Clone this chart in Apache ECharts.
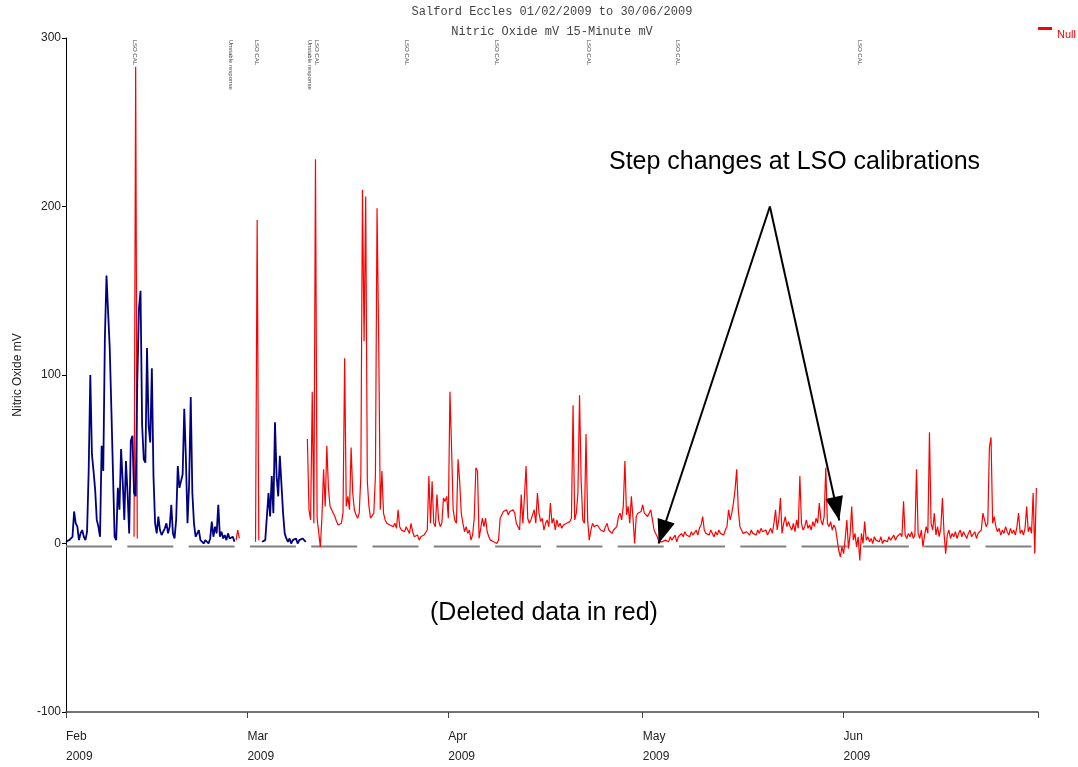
<!DOCTYPE html>
<html><head><meta charset="utf-8">
<script src="https://cdn.jsdelivr.net/npm/echarts@6/dist/echarts.min.js"></script>
<style>html,body{margin:0;padding:0;background:#fff}#c{width:1078px;height:767px}</style>
</head><body><div id="c"></div>
<script>
// ---- data (6-hour samples) ----
const stepHours = 6;
const blueStart = '2009-02-01 00:00';
const blueValues = [
  1, 0, 2, 1, 4, 19, 12, 10, 2, 6,
  8, 4, 2, 7, 43, 100, 53, 43, 32, 14,
  10, 4, 58, 43, 122, 159, 137, 116, 80, 79,
  4, 2, 33, 20, 56, 37, 14, 49, 30, 6,
  61, 64, 30, 28, 96, 139, 150, 70, 50, 48,
  116, 70, 60, 104, 40, 12, 6, 16, 8, 5,
  5, 9, 12, 6, 10, 23, 6, 3, 14, 46,
  33, 32, 41, 80, 51, 12, 35, 87, 30, 12,
  4, 6, 8, 2, 1, 0, 2, 1, 0, 3,
  13, 4, 10, 6, 23, 4, 7, 3, 5, 2,
  6, 3, 2, 4, 1, null, null, null, null, null,
  null, null, null, null, null, null, null, null, null, null,
  null, 1, 0, 2, 1, 30, 16, 40, 18, 72,
  40, 28, 52, 51, 18, 6, 3, 1, 3, 0,
  2, 1, 3, 0, 2, 1, 3, 2, 1
];
const redFeb11 = [4, 283, 3];
const redFeb27 = [2, 8, 3];
const redMar02 = [1, 192, 2];
const redMain = [
  62,
  20, 14, 90, 12, 228, 15, 14, -2, 16, 44,
  22, 58, 33, 22, 20, 18, 16, 13, 11, 10,
  12, 18, 110, 22, 28, 20, 57, 30, 20, 17,
  15, 18, 40, 210, 120, 206, 37, 22, 15, 14,
  18, 40, 199, 122, 20, 43, 18, 14, 12, 13,
  11, 12, 10, 12, 9, 20, 10, 8, 9, 7,
  10, 8, 6, 12, 7, 4, 3, 5, 2, 4,
  3, 5, 6, 8, 40, 12, 37, 12, 10, 29,
  14, 10, 12, 27, 25, 28, 15, 90, 57, 20,
  14, 12, 50, 37, 18, 12, 7, 10, 6, 8,
  2, 5, 15, 45, 43, 3, 9, 15, 10, 15,
  7, 4, 2, 3, 1, 2, 0, 2, 15, 17,
  19, 18, 20, 17, 19, 18, 20, 18, 12, 10,
  8, 29, 12, 28, 46, 15, 12, 14, 17, 20,
  12, 30, 18, 13, 15, 8, 12, 14, 10, 24,
  12, 15, 8, 14, 10, 12, 9, 11, 10, 12,
  11, 13, 15, 82, 14, 18, 30, 88, 37, 14,
  12, 65, 14, 2, 8, 12, 10, 9, 11, 12,
  8, 9, 7, 10, 12, 8, 9, 6, 8, 7,
  10, 16, 18, 14, 22, 49, 17, 22, 12, 28,
  15, 0, 16, 18, 17, 19, 23, 18, 17, 16,
  18, 20, 14, 8, 6, 4, 1, 2, 1, 0,
  2, 3, 1, 4, 2, 3, 5, 1, 4, 5,
  6, 4, 7, 5, 6, 4, 7, 5, 6, 8,
  5, 9, 11, 16, 8, 6, 7, 5, 8, 6,
  4, 7, 5, 8, 6, 7, 5, 8, 10, 20,
  14, 18, 24, 32, 44, 20, 10, 8, 6, 5,
  7, 6, 5, 8, 6, 7, 5, 8, 6, 9,
  7, 6, 8, 5, 7, 9, 6, 12, 20, 8,
  14, 27, 6, 12, 16, 10, 13, 10, 8, 12,
  7, 14, 9, 40, 12, 8, 10, 14, 9, 11,
  8, 13, 10, 15, 12, 24, 14, 11, 16, 45,
  12, 10, 13, 8, 11, 9, 10, -4, -8, -2,
  -6, 3, 14, -3, 5, 22, 2, 6, -2, 4,
  -10, 6, 0, 13, 2, 4, 1, 3, 0, 4,
  2, 3, 1, 4, 0, 2, 3, 1, 4, 2,
  3, 5, 2, 4, 3, 6, 4, 25, 5, 3,
  6, 4, 7, 3, 5, 44, 6, 3, 8, -2,
  5, 10, 6, 66, 12, 8, 18, 5, 10, 4,
  9, 27, 6, -6, 5, 8, 3, 6, 4, 7,
  3, 6, 8, 4, 7, 5, 3, 6, 8, 4,
  5, 7, 3, 6, 5, 8, 18, 14, 10, 12,
  57, 63, 12, 16, 10, 7, 9, 5, 8, 6,
  10, 7, 5, 9, 6, 8, 5, 10, 18, 6,
  8, 5, 9, 22, 7, 10, 6, 30, -6, 33
];
const redPieces = [redFeb11, redFeb27, redMar02, redMain];
const redStarts = ['2009-02-11 12:00', '2009-02-27 06:00', '2009-03-02 06:00', '2009-03-10 06:00'];

const calTimes = ['2009-02-11 16:00', '2009-02-26 11:00', '2009-03-02 11:00', '2009-03-11 03:00',
  '2009-03-25 14:00', '2009-04-08 12:00', '2009-04-22 14:00', '2009-05-06 10:00', '2009-06-03 12:00'];
const calLabels = ['LSO CAL', 'Unstable response', 'LSO CAL', 'LSO CAL\nUnstable response',
  'LSO CAL', 'LSO CAL', 'LSO CAL', 'LSO CAL', 'LSO CAL'];

const monthTicks = ['2009-02-01', '2009-03-01', '2009-04-01', '2009-05-01', '2009-06-01', '2009-07-01'];
const monthLabels = ['Feb\n2009', 'Mar\n2009', 'Apr\n2009', 'May\n2009', 'Jun\n2009', ''];

const arrowFrom = ['2009-05-20 15:00', 200];
const arrowTo = [['2009-05-03 11:00', 0], ['2009-05-31 08:00', 13.6]];
const nullLineLevel = -1.8;

// ---- helpers ----
function t(s) {
  const parts = s.split(' ');
  const [Y, M, D] = parts[0].split('-').map(Number);
  const [hh, mm] = (parts[1] || '00:00').split(':').map(Number);
  return new Date(Y, M - 1, D, hh, mm).getTime();
}
const H = 3600000;
function toSeries(start, vals) {
  const t0 = t(start);
  return vals.map((v, i) => [t0 + i * stepHours * H, v == null ? '-' : v]);
}
const blueData = toSeries(blueStart, blueValues);
let redData = [];
redPieces.forEach((p, k) => {
  if (k > 0) redData.push([t(redStarts[k]) - H, '-']);
  redData = redData.concat(toSeries(redStarts[k], p));
});
const tickTimes = monthTicks.map(s => t(s));
function labelFor(v) {
  let best = -1, bd = Infinity;
  tickTimes.forEach((tt, i) => { const d = Math.abs(tt - v); if (d < bd) { bd = d; best = i; } });
  return bd < H ? monthLabels[best] : '';
}

const chart = echarts.init(document.getElementById('c'), null, { renderer: 'canvas' });
chart.setOption({
  animation: false,
  backgroundColor: '#fff',
  grid: { left: 66, right: 40, top: 38, bottom: 52, containLabel: false },
  legend: {
    data: [{ name: 'Null', icon: 'rect' }],
    right: 2, top: 27, itemWidth: 14, itemHeight: 3, padding: 0,
    selectedMode: false,
    formatter: n => '{a|' + n + '}',
    textStyle: {
      color: '#ff0000', fontSize: 11, fontFamily: 'Liberation Sans, Arial',
      rich: { a: { color: '#ff0000', fontSize: 11, padding: [12, 0, 0, 0], fontFamily: 'Liberation Sans, Arial' } }
    }
  },
  xAxis: {
    type: 'value',
    min: tickTimes[0], max: tickTimes[tickTimes.length - 1],
    axisLine: { onZero: false, lineStyle: { color: '#444', width: 1.5 } },
    axisTick: { show: true, length: 6, lineStyle: { color: '#444' }, customValues: tickTimes },
    axisLabel: {
      customValues: tickTimes.slice(0, -1),
      formatter: v => labelFor(v),
      align: 'left', margin: 15, lineHeight: 20,
      color: '#222', fontSize: 12, fontFamily: 'Liberation Sans, Arial'
    },
    splitLine: { show: false }
  },
  yAxis: {
    type: 'value', min: -100, max: 300, interval: 100,
    name: 'Nitric Oxide mV', nameLocation: 'middle', nameGap: 42,
    nameTextStyle: { color: '#222', fontSize: 12, fontFamily: 'Liberation Sans, Arial' },
    axisLine: { show: true, lineStyle: { color: '#000', width: 1 } },
    axisTick: { show: true, length: 4, lineStyle: { color: '#000' } },
    axisLabel: { color: '#222', fontSize: 12, margin: 5, fontFamily: 'Liberation Sans, Arial' },
    splitLine: { show: false }
  },
  series: [
    {
      name: 'nullLine', type: 'line', silent: true, z: 1,
      data: [[tickTimes[0], nullLineLevel], [tickTimes[tickTimes.length - 1], nullLineLevel]],
      showSymbol: false, lineStyle: { color: '#808080', width: 2, type: [46, 15.3] }
    },
    {
      name: 'Null', type: 'line', z: 2, data: redData, showSymbol: false, connectNulls: false,
      color: '#ff0000',
      lineStyle: { color: '#ff0000', width: 1.2 },
      markLine: {
        silent: true, symbol: ['none', 'triangle'], symbolSize: [18, 24],
        symbolOffset: [[0, 0], [0, 12]],
        label: { show: false },
        lineStyle: { color: '#000', width: 2, type: 'solid' },
        data: arrowTo.map(e => [{ coord: [t(arrowFrom[0]), arrowFrom[1]] }, { coord: [t(e[0]), e[1]] }])
      }
    },
    {
      name: 'NO', type: 'line', z: 3, data: blueData, showSymbol: false, connectNulls: false,
      lineStyle: { color: '#000080', width: 1.8 }
    },
    {
      name: 'cal', type: 'scatter', silent: true, z: 4, symbolSize: 0,
      data: calTimes.map(s => [t(s), 299]),
      label: {
        show: true, position: [0, 0], rotate: -90, align: 'left', verticalAlign: 'middle',
        formatter: p => calLabels[p.dataIndex],
        fontSize: 6, lineHeight: 7, color: '#111', fontFamily: 'Liberation Sans, Arial'
      }
    }
  ],
  graphic: [
    { type: 'text', x: 552, y: 12, style: { text: 'Salford Eccles 01/02/2009 to 30/06/2009', font: '12px "Liberation Mono"', fill: '#444', align: 'center', verticalAlign: 'middle' } },
    { type: 'text', x: 552, y: 32, style: { text: 'Nitric Oxide mV 15-Minute mV', font: '12px "Liberation Mono"', fill: '#444', align: 'center', verticalAlign: 'middle' } },
    { type: 'text', x: 609, y: 162, style: { text: 'Step changes at LSO calibrations', font: '25px "Liberation Sans"', fill: '#000', align: 'left', verticalAlign: 'middle' } },
    { type: 'text', x: 430, y: 613, style: { text: '(Deleted data in red)', font: '25px "Liberation Sans"', fill: '#000', align: 'left', verticalAlign: 'middle' } }
  ]
});
</script></body></html>
